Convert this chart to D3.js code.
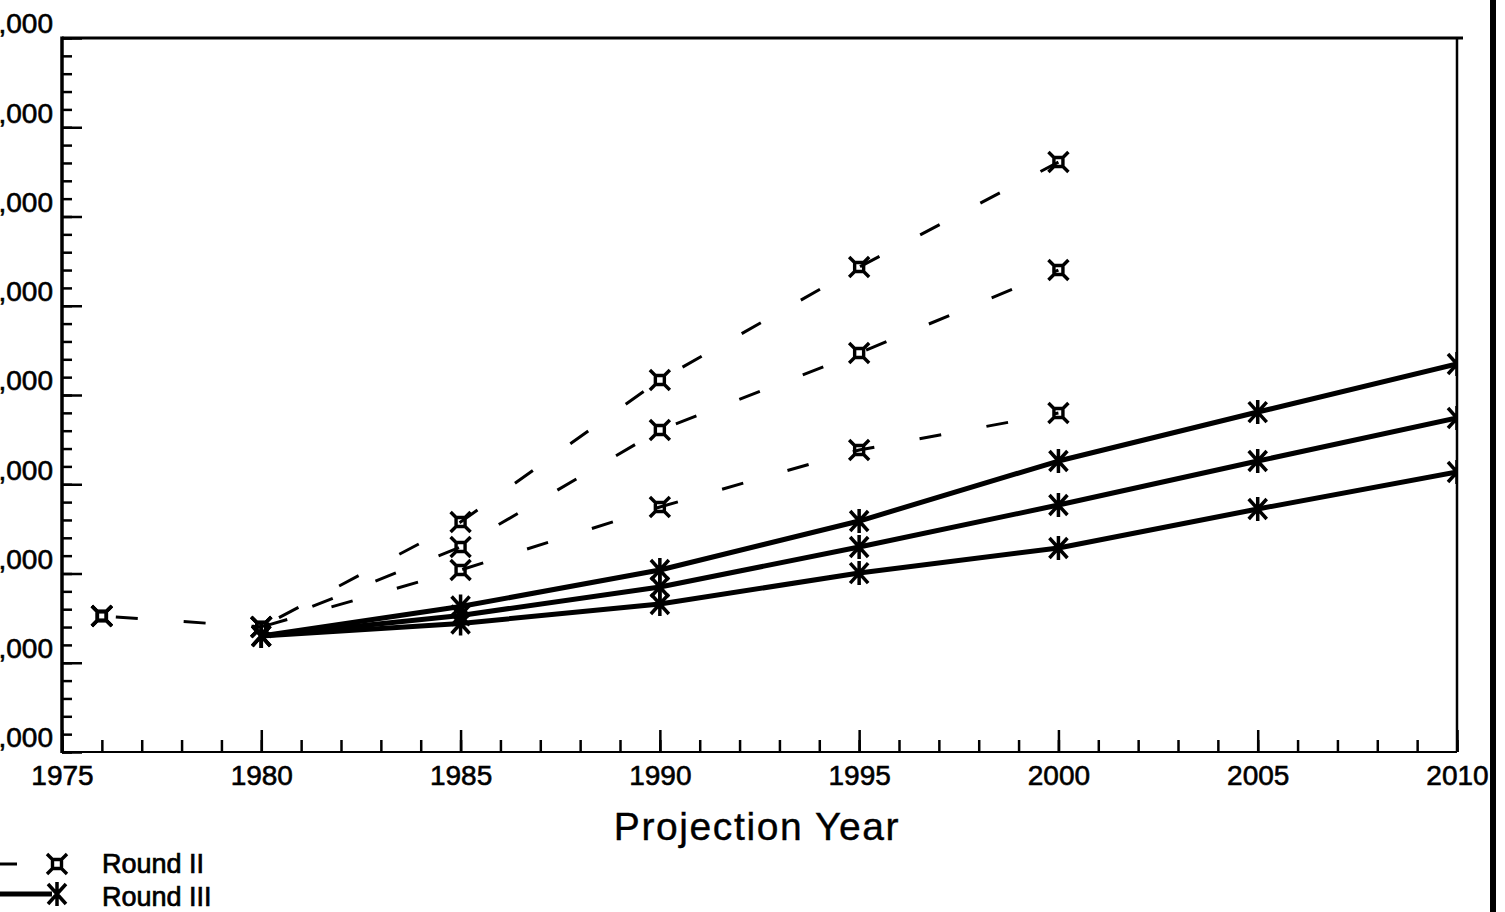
<!DOCTYPE html>
<html><head><meta charset="utf-8">
<script src="https://cdn.jsdelivr.net/npm/d3@7"></script>
<style>body{margin:0;background:#fff} svg{display:block}</style>
</head><body>
<script>
// ---- data ----
const years2 = [1976, 1980, 1985, 1990, 1995, 2000];
const round2High = [2524, 2401, 3577, 5168, 6434, 7610];
const round2Mid  = [2524, 2401, 3297, 4608, 5470, 6400];
const round2Low  = [2524, 2401, 3039, 3745, 4384, 4798];
const years3 = [1980, 1985, 1990, 1995, 2000, 2005, 2010];
const round3High = [2300, 2630, 3039, 3588, 4260, 4809, 5347];
const round3Mid  = [2300, 2530, 2849, 3297, 3767, 4260, 4742];
const round3Low  = [2300, 2440, 2658, 3005, 3286, 3723, 4137];
const yTickValues = [1000, 2000, 3000, 4000, 5000, 6000, 7000, 8000, 9000];
const xTickValues = [1975, 1980, 1985, 1990, 1995, 2000, 2005, 2010];
const xTitle = "Projection Year";
const legendLabels = ["Round II", "Round III"];

const W = 1505, H = 912;
const FONT = "'Liberation Sans', Arial, sans-serif";
const svg = d3.select("body").append("svg").attr("width", W).attr("height", H)
  .style("font-family", FONT);
svg.append("rect").attr("width", W).attr("height", H).attr("fill", "#fff");

const x = d3.scaleLinear().domain([1975, 2010]).range([62, 1457]);
const y = d3.scaleLinear().domain([1000, 9000]).range([752, 38]);

svg.append("clipPath").attr("id", "plotclip").append("rect")
  .attr("x", x(1975)).attr("y", 0).attr("width", x(2010) - x(1975)).attr("height", H);

// ---- frame ----
svg.append("line").attr("x1", x(1975)).attr("x2", x(2010) + 6).attr("y1", y(9000)).attr("y2", y(9000))
  .attr("stroke", "#000").attr("stroke-width", 3);
svg.append("line").attr("x1", x(2010)).attr("x2", x(2010)).attr("y1", y(9000)).attr("y2", y(1000))
  .attr("stroke", "#000").attr("stroke-width", 2.5);
// scanned page edge
svg.append("line").attr("x1", 1493).attr("x2", 1493).attr("y1", 0).attr("y2", H)
  .attr("stroke", "#000").attr("stroke-width", 6);

// ---- y axis (ticks inward) ----
const minorY = d3.range(1000, 9001, 200);
const gyMinor = svg.append("g").attr("transform", `translate(${x(1975)},0)`)
  .call(d3.axisRight(y).tickValues(minorY).tickSize(10).tickFormat(""));
const gyMajor = svg.append("g").attr("transform", `translate(${x(1975)},0)`)
  .call(d3.axisRight(y).tickValues(yTickValues).tickSize(20).tickFormat(""));
[gyMinor, gyMajor].forEach(g => {
  g.select(".domain").remove();
  g.selectAll(".tick line").attr("stroke", "#000").attr("stroke-width", 2.5);
});
svg.append("line").attr("x1", x(1975)).attr("x2", x(1975)).attr("y1", y(9000) - 1.5).attr("y2", y(1000) + 1)
  .attr("stroke", "#000").attr("stroke-width", 3.5);
const gyLab = svg.append("g").attr("transform", `translate(53,0)`)
  .call(d3.axisLeft(y).tickValues(yTickValues).tickSize(0).tickPadding(0).tickFormat(d3.format(",")));
gyLab.select(".domain").remove();
gyLab.selectAll("text").attr("font-size", 28).attr("fill", "#000")
  .attr("stroke", "#000").attr("stroke-width", 0.6)
  .attr("dy", "-0.18em").attr("font-family", FONT);

// ---- x axis (ticks inward) ----
const minorX = d3.range(1975, 2011, 1);
const gxMinor = svg.append("g").attr("transform", `translate(0,${y(1000)})`)
  .call(d3.axisTop(x).tickValues(minorX).tickSize(12).tickFormat(""));
const gxMajor = svg.append("g").attr("transform", `translate(0,${y(1000)})`)
  .call(d3.axisTop(x).tickValues(xTickValues).tickSize(22).tickFormat(""));
[gxMinor, gxMajor].forEach(g => {
  g.select(".domain").remove();
  g.selectAll(".tick line").attr("stroke", "#000").attr("stroke-width", 2.5);
});
svg.append("line").attr("x1", x(1975)).attr("x2", x(2010)).attr("y1", y(1000)).attr("y2", y(1000))
  .attr("stroke", "#000").attr("stroke-width", 2);
const gxLab = svg.append("g").attr("transform", `translate(0,${y(1000)})`)
  .call(d3.axisBottom(x).tickValues(xTickValues).tickSize(0).tickPadding(13).tickFormat(d3.format("d")));
gxLab.select(".domain").remove();
gxLab.selectAll("text").attr("font-size", 28).attr("fill", "#000")
  .attr("stroke", "#000").attr("stroke-width", 0.6).attr("font-family", FONT);

svg.append("text").attr("x", 757).attr("y", 840).attr("text-anchor", "middle")
  .attr("font-size", 39).attr("letter-spacing", 1.6).attr("fill", "#000")
  .attr("stroke", "#000").attr("stroke-width", 0.4).text(xTitle);

// ---- markers ----
function boxMarker(g, cx, cy) {
  const s = 4.5, e = 10;
  const p = d3.path();
  p.rect(cx - s, cy - s, 2 * s, 2 * s);
  [[-1,-1],[1,-1],[1,1],[-1,1]].forEach(([dx, dy]) => {
    p.moveTo(cx + dx * s, cy + dy * s); p.lineTo(cx + dx * e, cy + dy * e);
  });
  g.append("path").attr("d", p.toString()).attr("fill", "none")
    .attr("stroke", "#000").attr("stroke-width", 3.4);
}
function starMarker(g, cx, cy) {
  const p = d3.path();
  p.moveTo(cx, cy - 12); p.lineTo(cx, cy + 12);
  p.moveTo(cx - 9, cy - 10); p.lineTo(cx + 9, cy + 10);
  p.moveTo(cx - 9, cy + 10); p.lineTo(cx + 9, cy - 10);
  g.append("path").attr("d", p.toString()).attr("fill", "none")
    .attr("stroke", "#000").attr("stroke-width", 3.5);
}

const line = d3.line().x(d => x(d[0])).y(d => y(d[1]));
const plot = svg.append("g").attr("clip-path", "url(#plotclip)");

const r2 = [round2High, round2Mid, round2Low].map(v => years2.map((yr, i) => [yr, v[i]]));
const r3 = [round3High, round3Mid, round3Low].map(v => years3.map((yr, i) => [yr, v[i]]));

// shared historical segment (1976-1980) drawn once, projections from 1980 each with own dash phase
plot.append("path").attr("d", line(r2[0].slice(0, 2))).attr("fill", "none").attr("stroke", "#000")
  .attr("stroke-width", 3).attr("stroke-dasharray", "22 46").attr("stroke-dashoffset", -14);
const offsets = [-20, -55, -5];
r2.forEach((s, k) => {
  plot.append("path").attr("d", line(s.slice(1))).attr("fill", "none").attr("stroke", "#000")
    .attr("stroke-width", 3).attr("stroke-dasharray", "22 46").attr("stroke-dashoffset", offsets[k]);
});
r3.forEach(s => {
  plot.append("path").attr("d", line(s)).attr("fill", "none").attr("stroke", "#000")
    .attr("stroke-width", 5).attr("stroke-linejoin", "round");
});
r2.forEach(s => s.forEach(d => boxMarker(plot, x(d[0]), y(d[1]))));
r3.forEach(s => s.forEach(d => starMarker(plot, x(d[0]), y(d[1]))));

// ---- legend ----
const lg = svg.append("g");
lg.append("line").attr("x1", -5).attr("x2", 17).attr("y1", 864).attr("y2", 864)
  .attr("stroke", "#000").attr("stroke-width", 3);
boxMarker(lg, 57, 864);
lg.append("line").attr("x1", -5).attr("x2", 52).attr("y1", 894).attr("y2", 894)
  .attr("stroke", "#000").attr("stroke-width", 5);
starMarker(lg, 57, 894);
lg.append("text").attr("x", 102).attr("y", 873).attr("font-size", 27)
  .attr("fill", "#000").attr("stroke", "#000").attr("stroke-width", 0.7).text(legendLabels[0]);
lg.append("text").attr("x", 102).attr("y", 906).attr("font-size", 27)
  .attr("fill", "#000").attr("stroke", "#000").attr("stroke-width", 0.7).text(legendLabels[1]);
</script>
</body></html>
